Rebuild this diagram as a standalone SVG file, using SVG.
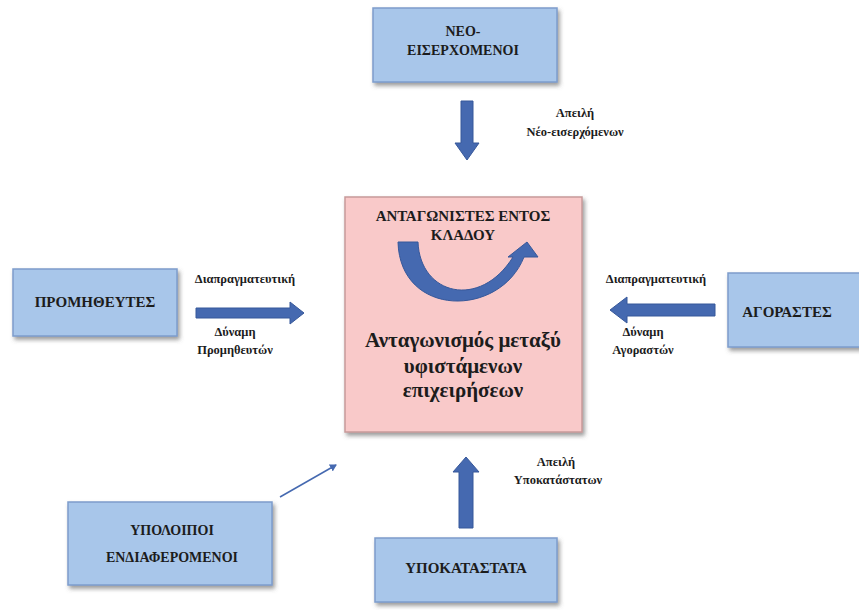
<svg xmlns="http://www.w3.org/2000/svg" width="859" height="610" viewBox="0 0 859 610">
<style>
.box{fill:#a8c6ea;stroke:#7d9ccc;stroke-width:1.5}
.pink{fill:#f9c9c9;stroke:#c79a9a;stroke-width:1.5}
.t{font-family:'Liberation Serif',serif;font-weight:bold;fill:#1c1c1c;text-anchor:middle}
.bt{font-size:14px}
.lb{font-size:12.5px}
.arr{fill:#4569b0;stroke:#37589a;stroke-width:1}
</style>
<defs>
<filter id="sh" x="-10%" y="-10%" width="130%" height="130%">
<feDropShadow dx="2" dy="3" stdDeviation="2" flood-color="#555" flood-opacity="0.6"/>
</filter>
<marker id="m" markerWidth="8" markerHeight="8" refX="6" refY="4" orient="auto" markerUnits="userSpaceOnUse">
<path d="M0,0 L7,4 L0,8 Z" fill="#4569b0"/>
</marker>
</defs>
<rect width="859" height="610" fill="#ffffff"/>

<g id="center">
<rect class="pink" x="345" y="197" width="237" height="235" filter="url(#sh)"/>
<text class="t" x="463" y="221" font-size="15">ΑΝΤΑΓΩΝΙΣΤΕΣ ΕΝΤΟΣ</text>
<text class="t" x="463" y="240" font-size="15">ΚΛΑΔΟΥ</text>
<path class="arr" d="M398,242 L418,242 C420,295 480,310 513,257 L508,257 L527,242 L538,257 L524,257 C500,318 400,318 398,242 Z"/>
<text class="t" x="463" y="347" font-size="21">Ανταγωνισμός μεταξύ</text>
<text class="t" x="463" y="373" font-size="21">υφιστάμενων</text>
<text class="t" x="463" y="397" font-size="21">επιχειρήσεων</text>
</g>

<g id="neo">
<rect class="box" x="373" y="8" width="184" height="74" filter="url(#sh)"/>
<text class="t bt" x="463" y="36">ΝΕΟ-</text>
<text class="t bt" x="463" y="55">ΕΙΣΕΡΧΟΜΕΝΟΙ</text>
</g>

<g id="promitheftes">
<rect class="box" x="13" y="269" width="164" height="67" filter="url(#sh)"/>
<text class="t" x="95" y="307" font-size="15">ΠΡΟΜΗΘΕΥΤΕΣ</text>
</g>

<g id="agorastes">
<rect class="box" x="728" y="273" width="140" height="74" filter="url(#sh)"/>
<text class="t" x="787" y="317" font-size="15">ΑΓΟΡΑΣΤΕΣ</text>
</g>

<g id="ypoloipoi">
<rect class="box" x="68" y="502" width="204" height="83" filter="url(#sh)"/>
<text class="t bt" x="172" y="535">ΥΠΟΛΟΙΠΟΙ</text>
<text class="t bt" x="172" y="562">ΕΝΔΙΑΦΕΡΟΜΕΝΟΙ</text>
</g>

<g id="ypokatastata">
<rect class="box" x="375" y="538" width="182" height="64" filter="url(#sh)"/>
<text class="t" x="466" y="573" font-size="15">ΥΠΟΚΑΤΑΣΤΑΤΑ</text>
</g>

<g id="connectors">
<path class="arr" d="M461,101 L473,101 L473,143 L479,143 L467,160 L455,143 L461,143 Z"/>
<path class="arr" d="M196,308 L290,308 L290,302 L304,313 L290,324 L290,318 L196,318 Z"/>
<path class="arr" d="M715,304 L627,304 L627,297 L610,310 L627,323 L627,316 L715,316 Z"/>
<path class="arr" d="M459,528 L473,528 L473,472 L479,472 L466,457 L453,472 L459,472 Z"/>
<line x1="280" y1="497" x2="336" y2="465" stroke="#4569b0" stroke-width="1.5" marker-end="url(#m)"/>
</g>

<g id="labels">
<text class="t lb" x="575" y="117">Απειλή</text>
<text class="t lb" x="575" y="136">Νέο-εισερχόμενων</text>
<text class="t lb" x="245" y="283">Διαπραγματευτική</text>
<text class="t lb" x="235" y="336">Δύναμη</text>
<text class="t lb" x="235" y="354">Προμηθευτών</text>
<text class="t lb" x="656" y="283">Διαπραγματευτική</text>
<text class="t lb" x="643" y="336">Δύναμη</text>
<text class="t lb" x="643" y="354">Αγοραστών</text>
<text class="t lb" x="556" y="466">Απειλή</text>
<text class="t lb" x="558" y="484">Υποκατάστατων</text>
</g>
</svg>
